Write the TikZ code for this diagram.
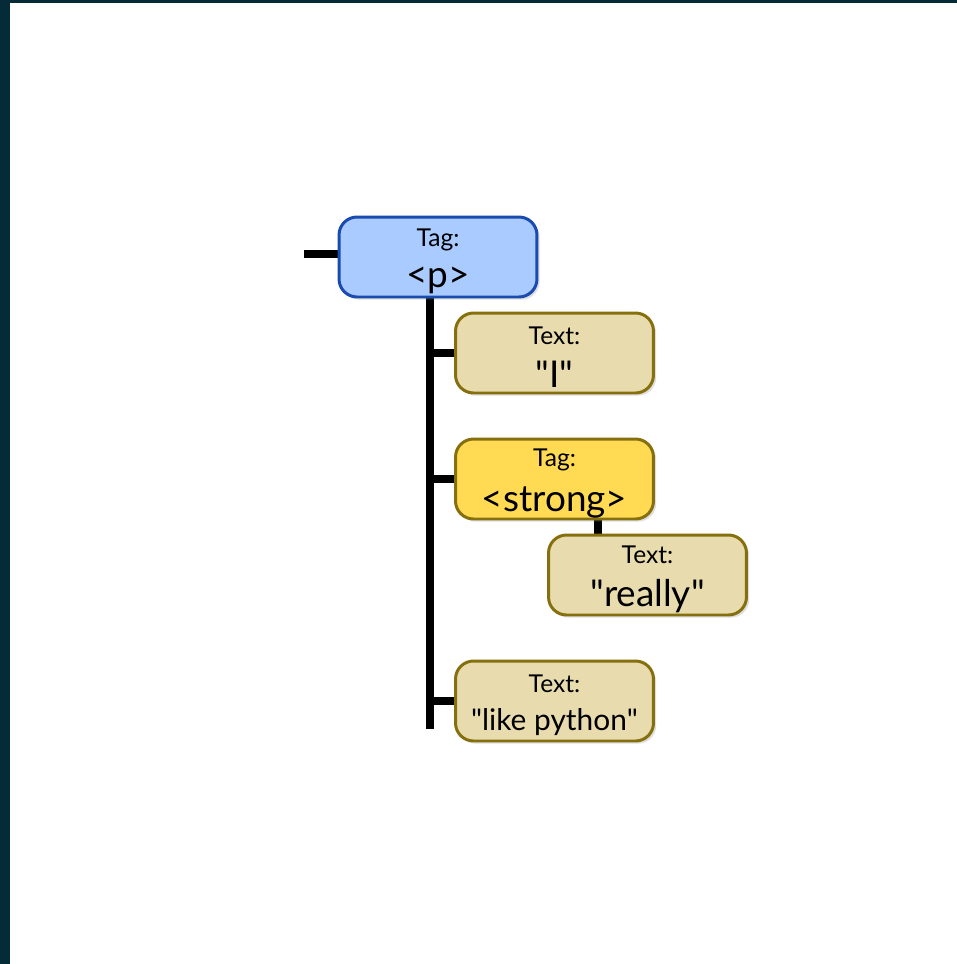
\documentclass[tikz,border=0pt]{standalone}
\usepackage{fontspec}
\setmainfont{Lato}
\usetikzlibrary{positioning,shadows}
\definecolor{frame}{HTML}{062B38}
\definecolor{tagblue}{HTML}{AACBFF}
\definecolor{tagblueline}{HTML}{1A4BAE}
\definecolor{tagyellow}{HTML}{FFDA52}
\definecolor{textfill}{HTML}{E8DCAE}
\definecolor{boxline}{HTML}{86700E}
\tikzset{every picture/.style={
  line join=round                % keep corners smooth.
  }
}
\newcommand{\kindof}[1]{{\fontsize{14}{16}\selectfont\rule{0pt}{15pt}#1}}
\newcommand{\valof}[1]{{\fontsize{21}{22}\selectfont #1}}
\newcommand{\qq}{\textquotedbl}

\begin{document}
\begin{tikzpicture}[
    x=0.02cm,y=-0.02cm,
    dom/.style={
      rectangle,rounded corners=0.36cm,
      minimum width=3.96cm,minimum height=1.6cm,
      line width=1.7pt,align=center,inner sep=0pt,
      drop shadow={shadow xshift=1.5pt,shadow yshift=-1.5pt,opacity=0.25}
    },
    tagbox/.style={dom,draw=tagblueline,fill=tagblue},
    strongbox/.style={dom,draw=boxline,fill=tagyellow},
    textbox/.style={dom,draw=boxline,fill=textfill},
    conn/.style={line width=5.1pt},
  ]

  % Frame round the page.
  \fill[frame] (0,0) rectangle (957,964);
  \fill[white] (10,3) rectangle (957,964);
  \useasboundingbox (0,0) rectangle (957,964);

  % The coordinates the connectors hang on.
  \coordinate (stub) at (304,254);
  \coordinate (trunk) at (430,729);
  \coordinate (sub) at (598,527);

  % Connectors first, boxes on top of them.
  \draw[conn] (stub) -- ++(40,0);
  \draw[conn] (trunk |- 0,290) -- (trunk);
  \draw[conn] (sub |- 0,515) -- (sub |- 0,540);
  \foreach \y in {353,479,701} {
    \draw[conn] (trunk |- 0,\y) -- ++(30,0);
  };

  % The tree of the paragraph.
  \node[tagbox] (p) at (438,257)
    {\kindof{Tag:}\\[8pt] \valof{<p>}};
  \node[textbox] (i) at (554.5,353)
    {\kindof{Text:}\\[8pt] \valof{\qq I\qq}};
  \node[strongbox] (strong) at (554.5,479)
    {\kindof{Tag:}\\[8pt] \valof{<strong>}};
  \node[textbox] (really) at (647.5,575)
    {\kindof{Text:}\\[8pt] \valof{\qq really\qq}};
  \node[textbox] (python) at (554.5,701)
    {\kindof{Text:}\\[8pt]
     {\fontsize{17}{18}\selectfont \qq like python\qq}};
\end{tikzpicture}
\end{document}
